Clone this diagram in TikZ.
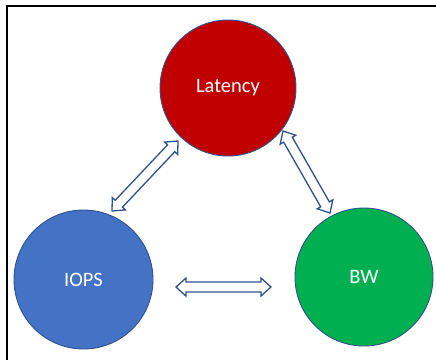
\documentclass[tikz,border=0pt]{standalone}
\usepackage{fontspec}
\setmainfont{Carlito}
\usetikzlibrary{calc}
\definecolor{latred}{HTML}{C00000}
\definecolor{iopsblue}{HTML}{4472C4}
\definecolor{bwgreen}{HTML}{00B050}
\definecolor{edgeblue}{HTML}{2F528F}
\tikzset{
  bubble/.style={circle, draw=edgeblue, line width=0.9pt, inner sep=0pt, text=white,
    font=\fontsize{20.5}{24}\selectfont},
  hollowarrow/.style={draw=edgeblue, line width=1.3pt, fill=white, line join=miter},
  frameline/.style={line width=1.4pt, black}
}
\newcommand\dblarr[2]{%
  \draw[hollowarrow] (#1)
    -- ($(#1)!10pt!(#2)!9pt!90:(#2)$)
    -- ($(#1)!10pt!(#2)!5pt!90:(#2)$)
    -- ($(#2)!10pt!(#1)!5pt!-90:(#1)$)
    -- ($(#2)!10pt!(#1)!9pt!-90:(#1)$)
    -- (#2)
    -- ($(#2)!10pt!(#1)!9pt!90:(#1)$)
    -- ($(#2)!10pt!(#1)!5pt!90:(#1)$)
    -- ($(#1)!10pt!(#2)!5pt!-90:(#2)$)
    -- ($(#1)!10pt!(#2)!9pt!-90:(#2)$)
    -- cycle;}
\begin{document}
\begin{tikzpicture}[x=1pt,y=-1pt]
\useasboundingbox (0,0) rectangle (436,360);
\coordinate (fr1) at (436,6);
\coordinate (fr0) at (7,6);
\coordinate (fr2) at (7,360);
\draw[frameline] (fr1) -- (fr0) -- (fr2);
\node[bubble, fill=latred, minimum size=136pt] (lat) at (228,88) {Latency};
\node[bubble, fill=iopsblue, minimum size=139pt] (iops) at (83.5,279.5) {IOPS};
\node[bubble, fill=bwgreen, minimum size=138pt] (bw) at (364,277) {BW};
\coordinate (a1s) at (112,211);
\coordinate (a1e) at (178,141);
\coordinate (a2s) at (283,131);
\coordinate (a2e) at (330,213);
\coordinate (a3s) at (176,287);
\coordinate (a3e) at (271,287);
\dblarr{a1s}{a1e}
\dblarr{a2s}{a2e}
\dblarr{a3s}{a3e}
\end{tikzpicture}
\end{document}
